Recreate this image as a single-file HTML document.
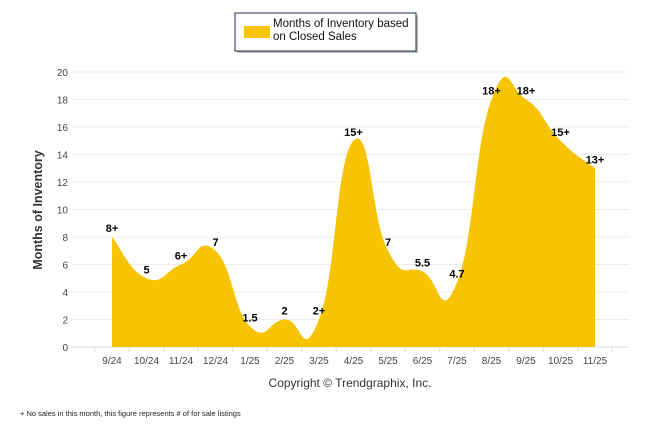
<!DOCTYPE html>
<html><head><meta charset="utf-8"><style>
body{margin:0;background:#fff;width:646px;height:434px;overflow:hidden;font-family:"Liberation Sans",sans-serif}
</style></head><body>
<svg width="646" height="434" font-family="Liberation Sans, sans-serif">
<g>
<rect x="237" y="15" width="181" height="38" fill="#777" opacity="0.5"/>
<rect x="235" y="13" width="181" height="38" fill="#fff" stroke="#1f2d4d" stroke-width="1"/>
<rect x="244" y="26" width="26" height="12" fill="#f7c404"/>
<text x="273" y="27" font-size="11.5" fill="#111">Months of Inventory based</text>
<text x="273" y="40" font-size="11.5" fill="#111">on Closed Sales</text>
</g>
<g id="grid"></g>
<path id="area" fill="#f7c404"/>
<g id="labels"></g>
<g id="xaxis"></g>
<text transform="translate(42,210) rotate(-90)" text-anchor="middle" font-size="12.5" font-weight="bold" fill="#333">Months of Inventory</text>
<text x="350" y="387" text-anchor="middle" font-size="12" fill="#333">Copyright © Trendgraphix, Inc.</text>
<text x="20" y="416" font-size="7.5" fill="#222">+  No sales in this month, this figure represents # of for sale listings</text>
</svg>
<script>
const categories=["9/24","10/24","11/24","12/24","1/25","2/25","3/25","4/25","5/25","6/25","7/25","8/25","9/25","10/25","11/25"];
const values=[8,5,6,7,1.5,2,2,15,7,5.5,4.7,18,18,15,13];
const valueLabels=["8+","5","6+","7","1.5","2","2+","15+","7","5.5","4.7","18+","18+","15+","13+"];
const yTicks=[0,2,4,6,8,10,12,14,16,18,20];
const NS="http://www.w3.org/2000/svg";
const x0=112,dx=(595-112)/14,yZero=347,yTop=72;
const X=i=>x0+i*dx, Y=v=>yZero-(v/20)*(yZero-yTop);
const grid=document.getElementById('grid');
yTicks.forEach(t=>{
 const l=document.createElementNS(NS,'line');
 
 
 l.setAttribute('x1',72);l.setAttribute('x2',629);l.setAttribute('y1',Y(t));l.setAttribute('y2',Y(t));
 l.setAttribute('stroke',t===0?'#ddd':'#ececec');grid.appendChild(l);
 const tx=document.createElementNS(NS,'text');
 
 
 tx.setAttribute('x',68);tx.setAttribute('y',Y(t)+4);tx.setAttribute('text-anchor','end');
 tx.setAttribute('font-size','10');tx.setAttribute('fill','#444');tx.textContent=t;grid.appendChild(tx);
});
const pts=values.map((v,i)=>[X(i),Y(v)]);
let d=`M${pts[0][0]},${yZero} L${pts[0][0]},${pts[0][1]}`;
for(let i=0;i<pts.length-1;i++){
 const p0=pts[Math.max(i-1,0)],p1=pts[i],p2=pts[i+1],p3=pts[Math.min(i+2,pts.length-1)];
 const k=1/4;
 d+=` C${p1[0]+(p2[0]-p0[0])*k},${p1[1]+(p2[1]-p0[1])*k} ${p2[0]-(p3[0]-p1[0])*k},${p2[1]-(p3[1]-p1[1])*k} ${p2[0]},${p2[1]}`;
}
d+=` L${pts[pts.length-1][0]},${yZero} Z`;
document.getElementById('area').setAttribute('d',d);
const lab=document.getElementById('labels'),xa=document.getElementById('xaxis');
categories.forEach((c,i)=>{
 const t=document.createElementNS(NS,'text');
 
 
 t.setAttribute('x',X(i));t.setAttribute('y',Y(values[i])-5);t.setAttribute('text-anchor','middle');
 t.setAttribute('font-size','11');t.setAttribute('font-weight','bold');t.setAttribute('fill','#000');
 t.textContent=valueLabels[i];lab.appendChild(t);
 const xt=document.createElementNS(NS,'text');
 
 
 xt.setAttribute('x',X(i));xt.setAttribute('y',364);xt.setAttribute('text-anchor','middle');
 xt.setAttribute('font-size','10');xt.setAttribute('fill','#444');xt.textContent=c;xa.appendChild(xt);
});
for(let i=0;i<=15;i++){
 const l=document.createElementNS(NS,'line');
 
 
 const xx=X(i)-dx/2;l.setAttribute('x1',xx);l.setAttribute('x2',xx);l.setAttribute('y1',yZero);l.setAttribute('y2',yZero+5);
 l.setAttribute('stroke','#ddd');xa.appendChild(l);
}
</script>
</body></html>
